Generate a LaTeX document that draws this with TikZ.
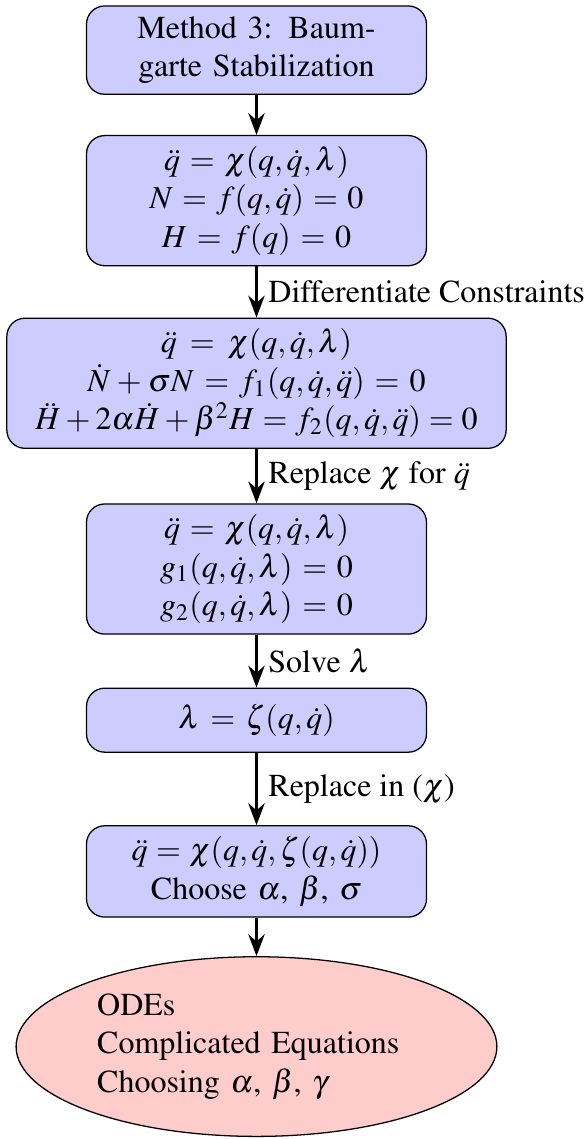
\documentclass[tikz,border=0pt]{standalone}
\usepackage[T1]{fontenc}
\usepackage{mathptmx}
\usepackage{xcolor}
\usepackage{tikz}
\usetikzlibrary{positioning,arrows.meta,shapes.geometric}

\begin{document}
\begin{tikzpicture}
\tikzstyle{block}=[draw,fill=blue!20,rounded corners=2mm,text width=3.5cm,align=center,minimum height=2em]
\tikzstyle{result}=[draw,fill=red!20,ellipse,text width=3.5cm,align=left]
\tikzstyle{flow}=[-{Stealth[length=2.4mm]},thick]
\useasboundingbox (-80.16pt,1.66pt) rectangle (102.66pt,-354.3pt);
\node[block,anchor=north] (start) at (0,0) {Method 3: Baumgarte Stabilization};
\node[block,below=12.5pt of start] (con) {$\ddot{q}=\chi(q,\dot{q},\lambda)$\\ $N=f(q,\dot{q})=0$\\ $H=f(q)=0$};
\node[block,text width=5.25cm,below=16pt of con] (diff) {$\ddot{q}=\chi(q,\dot{q},\lambda)$\\ $\dot{N}+\sigma N=f_1(q,\dot{q},\ddot{q})=0$\\ $\ddot{H}+2\alpha\dot{H}+\beta^2H=f_2(q,\dot{q},\ddot{q})=0$};
\node[block,below=17pt of diff] (sub) {$\ddot{q}=\chi(q,\dot{q},\lambda)$\\ $g_1(q,\dot{q},\lambda)=0$\\ $g_2(q,\dot{q},\lambda)=0$};
\node[block,below=16.5pt of sub] (lam) {$\lambda=\zeta(q,\dot{q})$};
\node[block,below=22.6pt of lam] (res) {$\ddot{q}=\chi(q,\dot{q},\zeta(q,\dot{q}))$\\ Choose $\alpha$, $\beta$, $\sigma$};
\node[result,below=12pt of res] (ode) {ODEs\\ Complicated Equations\\ Choosing $\alpha$, $\beta$, $\gamma$};
\draw[flow] (start)--(con);
\draw[flow] (con)--node[right]{Differentiate Constraints} (diff);
\draw[flow] (diff)--node[right]{Replace $\chi$ for $\ddot{q}$} (sub);
\draw[flow] (sub)--node[right]{Solve $\lambda$} (lam);
\draw[flow] (lam)--node[right]{Replace in ($\chi$)} (res);
\draw[flow] (res)--(ode);
\end{tikzpicture}
\end{document}
